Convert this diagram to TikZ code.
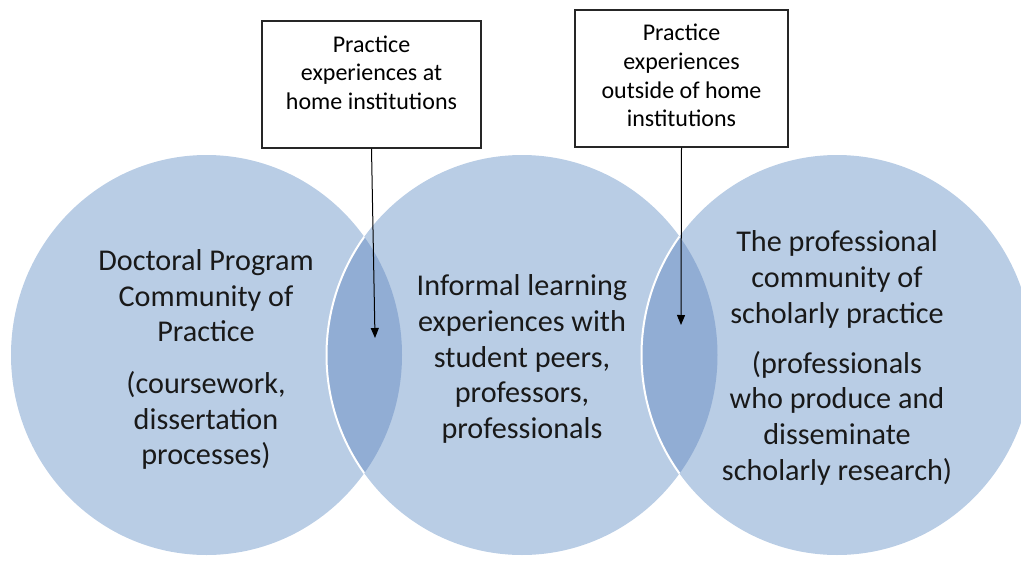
\documentclass[tikz,border=0pt]{standalone}
\usepackage{fontspec}
\setmainfont{Carlito}
\usetikzlibrary{arrows.meta}
\definecolor{circ}{HTML}{B9CDE5}
\definecolor{lens}{HTML}{91ADD4}
\begin{document}
\begin{tikzpicture}[x=1pt,y=-1pt,
  boxstyle/.style={draw=black!85, line width=1.2pt, fill=white, inner sep=0pt},
  boxtext/.style={align=center, font=\fontsize{24}{28.7}\selectfont, inner sep=0pt},
  circtext/.style={align=center, font=\fontsize{30.2}{35.7}\selectfont, text=black!90, inner sep=0pt},
  arr/.style={line width=1pt, -{Triangle[length=10pt,width=8pt]}}]
\useasboundingbox (0,0) rectangle (1021,565);
\def\lc{(206.5,355) ellipse [x radius=195.5, y radius=200]}
\def\mc{(522,355) ellipse [x radius=195.5, y radius=200]}
\def\rc{(837,355) ellipse [x radius=195.5, y radius=200]}
\begin{scope}
\clip (0,0) rectangle (1021,565);
\fill[circ] \lc;
\fill[circ] \mc;
\fill[circ] \rc;
\begin{scope}\clip \lc; \fill[lens] \mc; \end{scope}
\begin{scope}\clip \mc; \fill[lens] \rc; \end{scope}
\begin{scope}\clip \lc; \draw[white, line width=2pt] \mc; \end{scope}
\begin{scope}\clip \mc; \draw[white, line width=2pt] \rc; \end{scope}
\end{scope}
\node[circtext] (left) at (206,359.5) {Doctoral Program\\Community of\\Practice\\[16pt](coursework,\\dissertation\\processes)};
\node[circtext] (mid) at (522,359) {Informal learning\\experiences with\\student peers,\\professors,\\professionals};
\node[circtext] (right) at (837,358) {The professional\\community of\\scholarly practice\\[14pt](professionals\\who produce and\\disseminate\\scholarly research)};
\node[boxstyle, minimum width=219pt, minimum height=127pt] (b1) at (371.5,84.5) {};
\node[boxtext] (t1) at (371.5,72.5) {Practice\\experiences at\\home institutions};
\node[boxstyle, minimum width=213pt, minimum height=137pt] (b2) at (681.5,78.5) {};
\node[boxtext] (t2) at (681.5,75.5) {Practice\\experiences\\outside of home\\institutions};
\coordinate (p1) at (375,338);
\coordinate (p2) at (681,325);
\draw[arr] (b1.south) -- (p1);
\draw[arr] (b2.south) -- (p2);
\end{tikzpicture}
\end{document}
